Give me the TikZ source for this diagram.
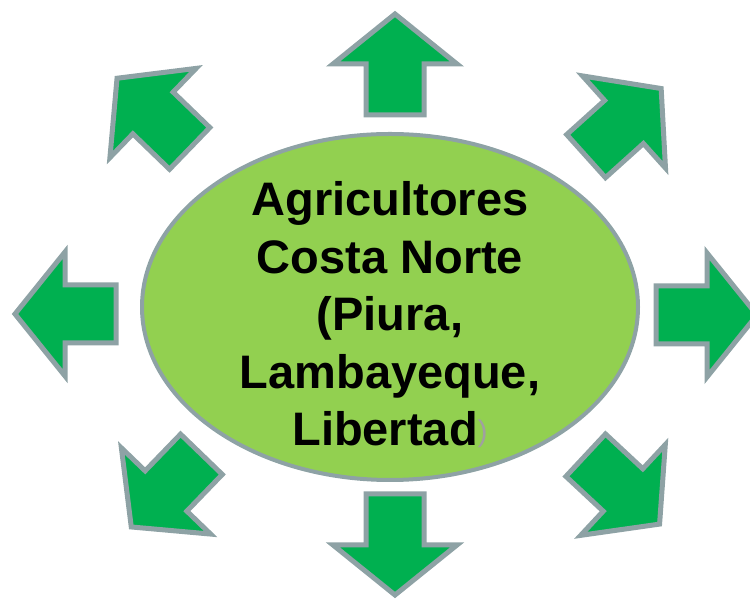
\documentclass[tikz,border=0pt]{standalone}
\usepackage{fontspec}
\setmainfont{Liberation Sans}
\definecolor{arrowgreen}{HTML}{00B050}
\definecolor{lightgreen}{HTML}{92D050}
\definecolor{edgegray}{HTML}{8EA2A5}
\definecolor{parengray}{HTML}{A0A0A0}
\tikzset{
  arrowbody/.style={fill=arrowgreen, draw=edgegray, line width=5, line join=miter},
  garrow/.pic={\draw[arrowbody] (-51,-29) -- (0,-29) -- (0,-62) -- (50,0) -- (0,62) -- (0,29) -- (-51,29) -- cycle;},
  hub/.style={ellipse, fill=lightgreen, draw=edgegray, line width=4, minimum width=496, minimum height=346, inner sep=0},
  hubtext/.style={align=center, font={\fontsize{47}{57.5}\selectfont\bfseries}, inner sep=0}
}
\usetikzlibrary{shapes.geometric}
\begin{document}
\begin{tikzpicture}[x=1pt, y=1pt]
\useasboundingbox (0,0) rectangle (750,599);
% arrows around the hub
\pic[rotate=90]   (aup)   at (395,535) {garrow};
\pic[rotate=-90]  (adown) at (395,54)  {garrow};
\pic[rotate=180]  (aleft) at (65,285)  {garrow};
\pic[rotate=0]    (aright) at (707,284) {garrow};
\pic[rotate=136]  (aul)   at (153,486) {garrow};
\pic[rotate=42]   (aur)   at (624,477) {garrow};
\pic[rotate=-43]  (adr)   at (623,109) {garrow};
\pic[rotate=-134] (adl)   at (166,108) {garrow};
% central ellipse
\node[hub] (hub) at (390,292) {};
\node[hubtext] (label) at (390,284) {Agricultores\\Costa Norte\\(Piura,\\Lambayeque,\\Libertad{\fontsize{30}{30}\selectfont\mdseries\color{parengray}\raisebox{4pt}{)}}};
\end{tikzpicture}
\end{document}
